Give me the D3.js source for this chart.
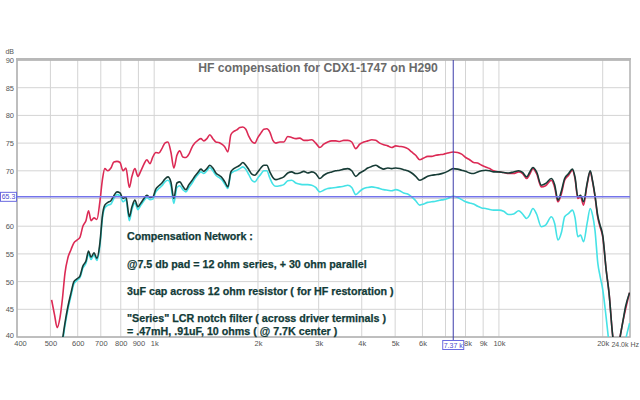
<!DOCTYPE html>
<html><head><meta charset="utf-8">
<script src="https://cdn.jsdelivr.net/npm/d3@7"></script>
<style>body{margin:0;background:#fff}svg{display:block}</style>
</head><body>
<script>
const freqs = [504,514,523,533,542,551,562,574,585,597,609,621,634,645,656,669,682,696,708,719,734,749,764,780,796,812,828,847,862,879,897,915,934,952,972,991,
1011,1032,1053,1074,1096,1118,1140,1164,1187,1211,1236,1261,1286,1312,1339,1366,1393,1422,1450,1480,1510,1540,1571,1603,1636,1669,1702,1737,1772,1808,1844,1882,1920,1959,1998,
2039,2080,2122,2165,2209,2254,2315,2377,2441,2506,2574,2643,2716,2789,2865,2942,3022,3104,3188,3274,3363,3454,3547,3643,3742,3843,3947,
4053,4163,4276,4391,4510,4632,4758,4886,5019,5155,5294,5437,5585,5736,5891,6050,6214,6383,6556,6731,6913,7101,7366,7590,7796,8006,8224,8447,8676,8911,9152,9400,9654,
10000,10318,10670,11030,11410,11710,12030,12270,12550,12860,13270,13660,14190,14510,14830,15200,15510,15930,16330,16630,16940,17250,17600,18020,18400,18690,19000,19360,19650,
20010,20470,20860,21400,21940,22380,22840,23300,23930];

const redDb = [46.7,44.0,41.7,43.5,47.0,51.5,54.3,55.8,57.0,57.5,58.0,60.0,61.0,62.8,61.0,61.5,61.2,64.5,68.5,70.4,70.0,70.5,71.6,71.7,71.5,70.0,70.5,67.0,69.0,70.4,69.0,70.0,71.2,72.0,71.3,72.5,
73.3,73.2,74.0,75.0,75.2,73.4,70.5,72.8,73.6,72.5,72.4,73.0,74.2,75.0,75.5,75.8,75.4,75.8,76.5,75.8,75.2,75.1,74.8,74.3,73.4,76.5,77.1,77.4,77.8,77.9,77.5,76.2,75.3,75.0,76.0,
76.8,77.5,77.6,77.0,75.5,75.0,75.2,75.2,76.2,76.0,75.8,75.9,75.5,75.5,75.6,75.0,74.2,74.8,75.2,75.4,75.4,75.3,75.5,75.5,75.2,74.0,74.8,
75.2,75.4,75.6,75.5,75.0,74.7,74.5,74.2,74.5,74.4,74.3,74.0,73.4,72.8,72.0,72.3,72.6,72.6,72.8,72.9,73.0,73.2,73.4,73.3,73.0,72.4,72.0,71.5,71.4,71.0,70.7,70.4,70.0,
69.8,69.7,69.5,69.5,69.8,69.5,68.6,69.3,70.4,69.5,67.1,67.3,68.3,67.0,64.4,66.0,68.3,69.2,70.1,68.5,65.0,65.3,63.8,67.5,69.8,68.0,65.3,61.5,59.9,
58.0,52.1,48.0,40.0,37.0,39.5,42.5,45.0,48.0];

const darkDb = [null,null,null,null,39.5,42.5,45.5,48.0,50.0,50.5,51.0,52.8,53.7,55.5,54.4,55.2,54.2,57.0,62.0,63.8,64.3,64.6,65.5,66.2,66.0,65.0,65.3,61.7,63.5,64.7,63.5,64.2,65.0,65.6,65.2,65.3,
66.7,67.3,67.8,68.5,68.9,68.0,65.0,67.8,68.0,67.2,66.6,67.5,68.2,69.0,69.7,70.3,69.9,70.4,71.0,70.5,69.6,69.2,68.8,68.0,67.1,69.8,70.4,70.7,71.0,71.5,71.0,70.2,69.4,69.2,69.8,
70.5,71.0,71.0,69.8,68.8,68.4,68.6,68.9,69.6,69.8,69.5,69.6,69.9,69.6,69.8,69.5,68.6,69.2,69.6,69.8,70.0,70.1,70.3,70.4,70.0,69.0,69.6,
70.0,70.5,70.8,71.0,70.6,70.3,70.5,70.4,70.5,70.4,70.2,70.0,69.6,69.0,68.3,68.6,69.0,69.2,69.3,69.4,69.6,69.9,70.4,70.3,70.1,69.9,69.6,69.5,69.8,70.0,70.1,70.0,69.8,
69.8,69.7,69.6,69.8,70.0,69.7,68.9,69.7,70.6,69.8,67.4,67.7,68.6,67.5,64.7,66.5,68.6,69.5,70.3,68.8,65.3,65.6,64.4,67.7,70.0,68.2,65.5,61.8,60.2,
58.3,52.1,48.0,40.0,37.0,39.5,42.5,45.5,48.0];

const cyanDb = [null,null,null,null,39.0,42.0,45.0,47.5,49.6,50.2,50.7,52.4,53.3,55.0,54.0,54.8,53.8,56.5,61.5,63.3,63.8,64.0,65.0,65.7,65.5,64.4,64.8,61.0,63.0,64.2,63.0,63.8,64.6,65.2,64.8,64.9,
66.2,66.8,67.3,68.0,68.3,67.3,64.1,67.0,67.3,66.6,66.2,67.0,67.7,68.6,69.3,69.8,69.5,70.0,70.6,70.0,69.2,68.8,68.4,67.6,66.8,69.5,69.9,70.1,70.4,70.7,70.3,69.3,68.3,68.0,68.7,
69.4,70.0,70.0,68.7,67.6,67.2,67.3,67.5,68.2,68.3,67.8,67.6,67.5,67.5,67.4,67.0,66.2,66.5,66.8,66.9,67.0,67.1,67.2,67.4,67.0,65.7,66.3,
66.8,67.0,67.1,67.0,66.8,66.6,66.5,66.4,66.6,66.4,66.0,65.8,65.3,64.6,63.8,64.0,64.3,64.4,64.5,64.7,64.8,65.0,65.4,65.2,64.8,64.4,64.2,64.0,63.6,63.3,63.2,63.0,62.9,
62.9,62.7,62.1,62.2,62.8,62.2,61.4,62.0,63.2,62.2,59.9,60.2,61.7,60.5,57.5,59.0,61.7,62.3,62.9,61.5,58.1,58.4,57.2,60.5,63.2,62.0,59.2,53.3,51.0,
48.5,43.5,39.0,36.0,35.0,35.0,37.0,39.5,42.5];

const xTicks = [400,500,600,700,800,900,1000,2000,3000,4000,5000,6000,7000,8000,9000,10000,20000];
const xTickLabels = ["400","500","600","700","800","900","1k","2k","3k","4k","5k","6k","7k","8k","9k","10k","20k"];
const yTicks = [40,45,50,55,60,65,70,75,80,85,90];

const title = "HF compensation for CDX1-1747 on H290";
const notes = ["Compensation Network :","@7.5 db pad = 12 ohm series, + 30 ohm parallel","3uF cap across 12 ohm resistor ( for HF restoration )","\"Series\" LCR notch filter ( across driver terminals )","= .47mH, .91uF, 10 ohms  ( @ 7.7K center )"];
const cursorFreq = 7370, cursorDb = 65.3;

const W = 640, H = 400;
const L = 17, R = 630, T = 60, B = 337;
const svg = d3.select("body").append("svg").attr("width", W).attr("height", H)
  .style("font-family", "'Liberation Sans', Arial, sans-serif");

const x = d3.scaleLog().domain([400, 24000]).range([L, R]);
const y = d3.scaleLinear().domain([40, 90]).range([B, T]);

svg.append("defs").append("clipPath").attr("id", "clip")
  .append("rect").attr("x", L).attr("y", T).attr("width", R - L).attr("height", B - T);

// grid
const grid = svg.append("g");
grid.selectAll("line.v").data(xTicks).join("line")
  .attr("x1", d => x(d)).attr("x2", d => x(d)).attr("y1", T).attr("y2", B)
  .attr("stroke", "#d4d4d4").attr("stroke-width", 1);
grid.selectAll("line.h").data(yTicks).join("line")
  .attr("x1", L).attr("x2", R).attr("y1", d => y(d)).attr("y2", d => y(d))
  .attr("stroke", "#d4d4d4").attr("stroke-width", 1);

// frame
svg.append("rect").attr("x", L).attr("y", T).attr("width", R - L).attr("height", B - T)
  .attr("fill", "none").attr("stroke", "#b0b0b0").attr("stroke-width", 1.5);
svg.append("line").attr("x1", L - 1).attr("x2", R + 1).attr("y1", T - 1).attr("y2", T - 1)
  .attr("stroke", "#b8b8b8").attr("stroke-width", 2);

// axes (labels hidden under the cursor read-outs are left out)
const xAxis = d3.axisBottom(x).tickValues(xTicks).tickSize(0).tickPadding(3)
  .tickFormat((d, i) => d === 7000 ? "" : xTickLabels[i]);
const gx = svg.append("g").attr("transform", `translate(0,${B + 1})`).call(xAxis);
gx.select(".domain").remove();
gx.selectAll("text").attr("font-size", 7.5).attr("fill", "#555");
gx.selectAll(".tick").filter(d => d === 400).select("text").attr("dx", 3);
gx.selectAll(".tick").filter(d => d === 8000).select("text").attr("dx", 2);
svg.append("text").attr("x", 639).attr("y", B + 10).attr("text-anchor", "end")
  .attr("font-size", 7).attr("fill", "#555").text("24.0k Hz");

const yAxis = d3.axisLeft(y).tickValues(yTicks).tickSize(0).tickPadding(2)
  .tickFormat(d => d === 65 ? "" : d);
const gy = svg.append("g").attr("transform", `translate(${L - 1},0)`).call(yAxis);
gy.select(".domain").remove();
gy.selectAll("text").attr("font-size", 7.5).attr("fill", "#555");
gy.selectAll(".tick").filter(d => d === 40).select("text").attr("dy", "0.1em");
svg.append("text").attr("x", 14).attr("y", T - 6).attr("text-anchor", "end").attr("font-size", 7).attr("fill", "#555").text("dB");

// curves
const plot = svg.append("g").attr("clip-path", "url(#clip)");
const mk = arr => d3.line().defined((d, i) => arr[i] !== null)
  .x((d, i) => x(freqs[i])).y((d, i) => y(arr[i])).curve(d3.curveMonotoneX);
[[cyanDb, "#45e2e6"], [redDb, "#dc2a55"], [darkDb, "#173c36"]].forEach(([arr, c]) => {
  plot.append("path").datum(freqs).attr("d", mk(arr)).attr("fill", "none")
    .attr("stroke", c).attr("stroke-width", 1.6).attr("stroke-linejoin", "round");
});

// title
svg.append("text").attr("x", 318).attr("y", 71.5).attr("text-anchor", "middle")
  .attr("font-size", 12.2).attr("font-weight", "bold").attr("fill", "#6a6a6a").text(title);

// cursors
svg.append("line").attr("x1", L).attr("x2", R).attr("y1", y(cursorDb)).attr("y2", y(cursorDb))
  .attr("stroke", "#7474ea").attr("stroke-width", 1.5);
svg.append("line").attr("x1", x(cursorFreq)).attr("x2", x(cursorFreq)).attr("y1", T).attr("y2", B + 4)
  .attr("stroke", "#3c3caa").attr("stroke-width", 1);
svg.append("rect").attr("x", 0.5).attr("y", y(cursorDb) - 4.5).attr("width", 16).attr("height", 9)
  .attr("fill", "#fff").attr("stroke", "#6a6ae0").attr("stroke-width", 1);
svg.append("text").attr("x", 8.5).attr("y", y(cursorDb) + 2.5).attr("text-anchor", "middle")
  .attr("font-size", 7).attr("fill", "#4a4ad0").text(cursorDb.toFixed(1));
const cx = x(cursorFreq);
svg.append("rect").attr("x", cx - 10.5).attr("y", B + 3.5).attr("width", 21).attr("height", 9)
  .attr("fill", "#fff").attr("stroke", "#6a6ae0").attr("stroke-width", 1);
svg.append("text").attr("x", cx).attr("y", B + 10.5).attr("text-anchor", "middle")
  .attr("font-size", 7).attr("fill", "#4a4ad0").text((cursorFreq / 1000).toFixed(2) + " k");

// notes
const noteY = [236, 264, 291, 318, 331];
const ng = svg.append("g").attr("font-weight", "bold").attr("fill", "#123b38").attr("font-size", 10.7)
  .attr("stroke", "#123b38").attr("stroke-width", 0.25);
notes.forEach((t, i) => ng.append("text").attr("x", 127).attr("y", noteY[i] + 3.8).text(t));
</script>
</body></html>
